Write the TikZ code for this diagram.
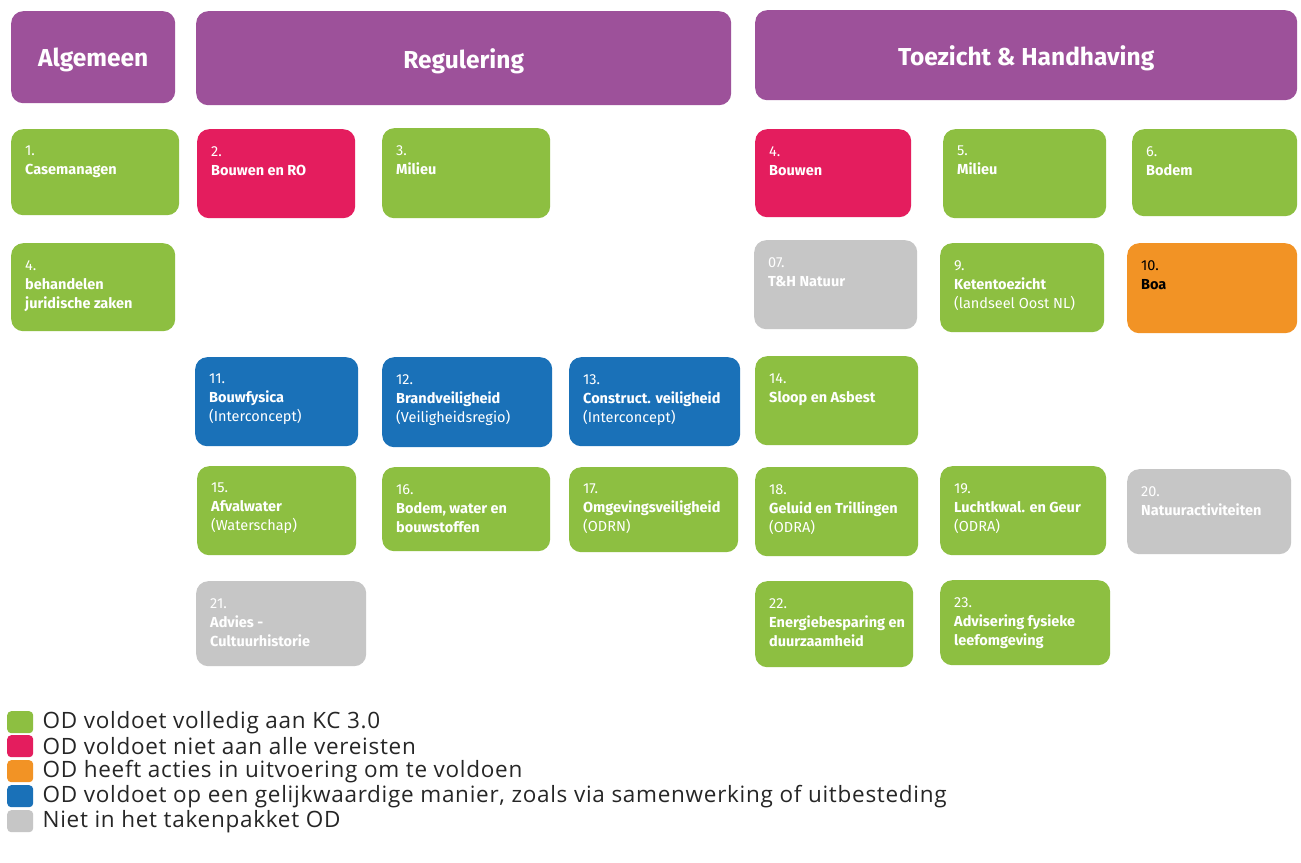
\documentclass[tikz,border=0pt]{standalone}
\usepackage{fontspec}
\setmainfont{Fira Sans}
\newfontfamily\legfont[LetterSpace=3.2]{Open Sans}
\definecolor{cpurple}{HTML}{9D519A}
\definecolor{cgreen}{HTML}{8DBF41}
\definecolor{cpink}{HTML}{E41D5E}
\definecolor{corange}{HTML}{F29325}
\definecolor{cblue}{HTML}{1A71B8}
\definecolor{cgray}{HTML}{C6C6C6}
\definecolor{clegtext}{HTML}{262626}
\tikzset{
 tile/.style={rounded corners=12pt, inner sep=0pt, anchor=north west, draw=none},
 tiletext/.style={anchor=north west, inner sep=0pt, align=left, text=white,
   font=\fontsize{14.5}{19}\selectfont},
 headtext/.style={text=white, inner sep=0pt, font=\fontsize{24.5}{30}\selectfont\bfseries},
 legbox/.style={rounded corners=4pt, inner sep=0pt, anchor=north west,
   minimum width=26pt, minimum height=22pt},
 legtext/.style={anchor=west, inner sep=0pt, text=clegtext,
   font=\legfont\fontsize{22.5}{24}\selectfont}
}
\newcommand\tile[7]{%
 \node[tile, fill=#6, minimum width=#4-#2, minimum height=#5-#3] (#1) at (#2,#3) {};
 \node[tiletext] (#1t) at ([xshift=14pt,yshift=-17pt]#1.north west) {#7};
}
\newcommand\headtile[6]{%
 \node[tile, fill=cpurple, minimum width=#4-#2, minimum height=#5-#3] (#1) at (#2,#3) {};
 \node[headtext] (#1t) at ([yshift=-3pt]#1.center) {#6};
}
\newcommand\legitem[4]{%
 \node[legbox, fill=#3] (#1) at (7,#2) {};
 \node[legtext] (#1t) at ([xshift=9pt]#1.east) {#4};
}
\begin{document}
\begin{tikzpicture}[x=1pt,y=-1pt]
\useasboundingbox[fill=white] (0,0) rectangle (1301,862);
% headers
\headtile{hAlg}{11}{11}{175}{103}{Algemeen}
\headtile{hReg}{196}{11}{731}{105}{Regulering}
\headtile{hTH}{755}{10}{1297}{100}{Toezicht \& Handhaving}
% row 1
\tile{t1}{11}{129}{179}{215}{cgreen}{1.\\\textbf{Casemanagen}}
\tile{t2}{197}{129}{355}{218}{cpink}{2.\\\textbf{Bouwen en RO}}
\tile{t3}{382}{128}{550}{218}{cgreen}{3.\\\textbf{Milieu}}
\tile{t4b}{755}{129}{911}{217}{cpink}{4.\\\textbf{Bouwen}}
\tile{t5}{943}{129}{1106}{218}{cgreen}{5.\\\textbf{Milieu}}
\tile{t6}{1132}{129}{1297}{216}{cgreen}{6.\\\textbf{Bodem}}
% row 2
\tile{t4a}{11}{243}{175}{331}{cgreen}{4.\\\textbf{behandelen}\\\textbf{juridische zaken}}
\tile{t7}{754}{240}{917}{329}{cgray}{07.\\\textbf{T\&H Natuur}}
\tile{t9}{940}{243}{1104}{332}{cgreen}{9.\\\textbf{Ketentoezicht}\\(landseel Oost NL)}
\tile{t10}{1127}{243}{1297}{333}{corange}{\textcolor{black}{10.}\\\textcolor{black}{\textbf{Boa}}}
% row 3
\tile{t11}{195}{357}{358}{446}{cblue}{11.\\\textbf{Bouwfysica}\\(Interconcept)}
\tile{t12}{382}{357}{552}{447}{cblue}{12.\\\textbf{Brandveiligheid}\\(Veiligheidsregio)}
\tile{t13}{569}{357}{740}{446}{cblue}{13.\\\textbf{Construct. veiligheid}\\(Interconcept)}
\tile{t14}{755}{356}{918}{445}{cgreen}{14.\\\textbf{Sloop en Asbest}}
% row 4
\tile{t15}{197}{466}{356}{555}{cgreen}{15.\\\textbf{Afvalwater}\\(Waterschap)}
\tile{t16}{382}{467}{550}{551}{cgreen}{16.\\\textbf{Bodem, water en}\\\textbf{bouwstoffen}}
\tile{t17}{569}{467}{738}{552}{cgreen}{17.\\\textbf{Omgevingsveiligheid}\\(ODRN)}
\tile{t18}{755}{467}{918}{556}{cgreen}{18.\\\textbf{Geluid en Trillingen}\\(ODRA)}
\tile{t19}{940}{466}{1106}{555}{cgreen}{19.\\\textbf{Luchtkwal. en Geur}\\(ODRA)}
\tile{t20}{1127}{469}{1291}{554}{cgray}{20.\\\textbf{Natuuractiviteiten}}
% row 5
\tile{t21}{196}{581}{366}{666}{cgray}{21.\\\textbf{Advies -}\\\textbf{Cultuurhistorie}}
\tile{t22}{755}{581}{913}{667}{cgreen}{22.\\\textbf{Energiebesparing en}\\\textbf{duurzaamheid}}
\tile{t23}{940}{580}{1110}{665}{cgreen}{23.\\\textbf{Advisering fysieke}\\\textbf{leefomgeving}}
% legend
\legitem{lg1}{711}{cgreen}{OD voldoet volledig aan KC 3.0}
\legitem{lg2}{735}{cpink}{OD voldoet niet aan alle vereisten}
\legitem{lg3}{760}{corange}{OD heeft acties in uitvoering om te voldoen}
\legitem{lg4}{785}{cblue}{OD voldoet op een gelijkwaardige manier, zoals via samenwerking of uitbesteding}
\legitem{lg5}{810}{cgray}{Niet in het takenpakket OD}
\end{tikzpicture}
\end{document}
